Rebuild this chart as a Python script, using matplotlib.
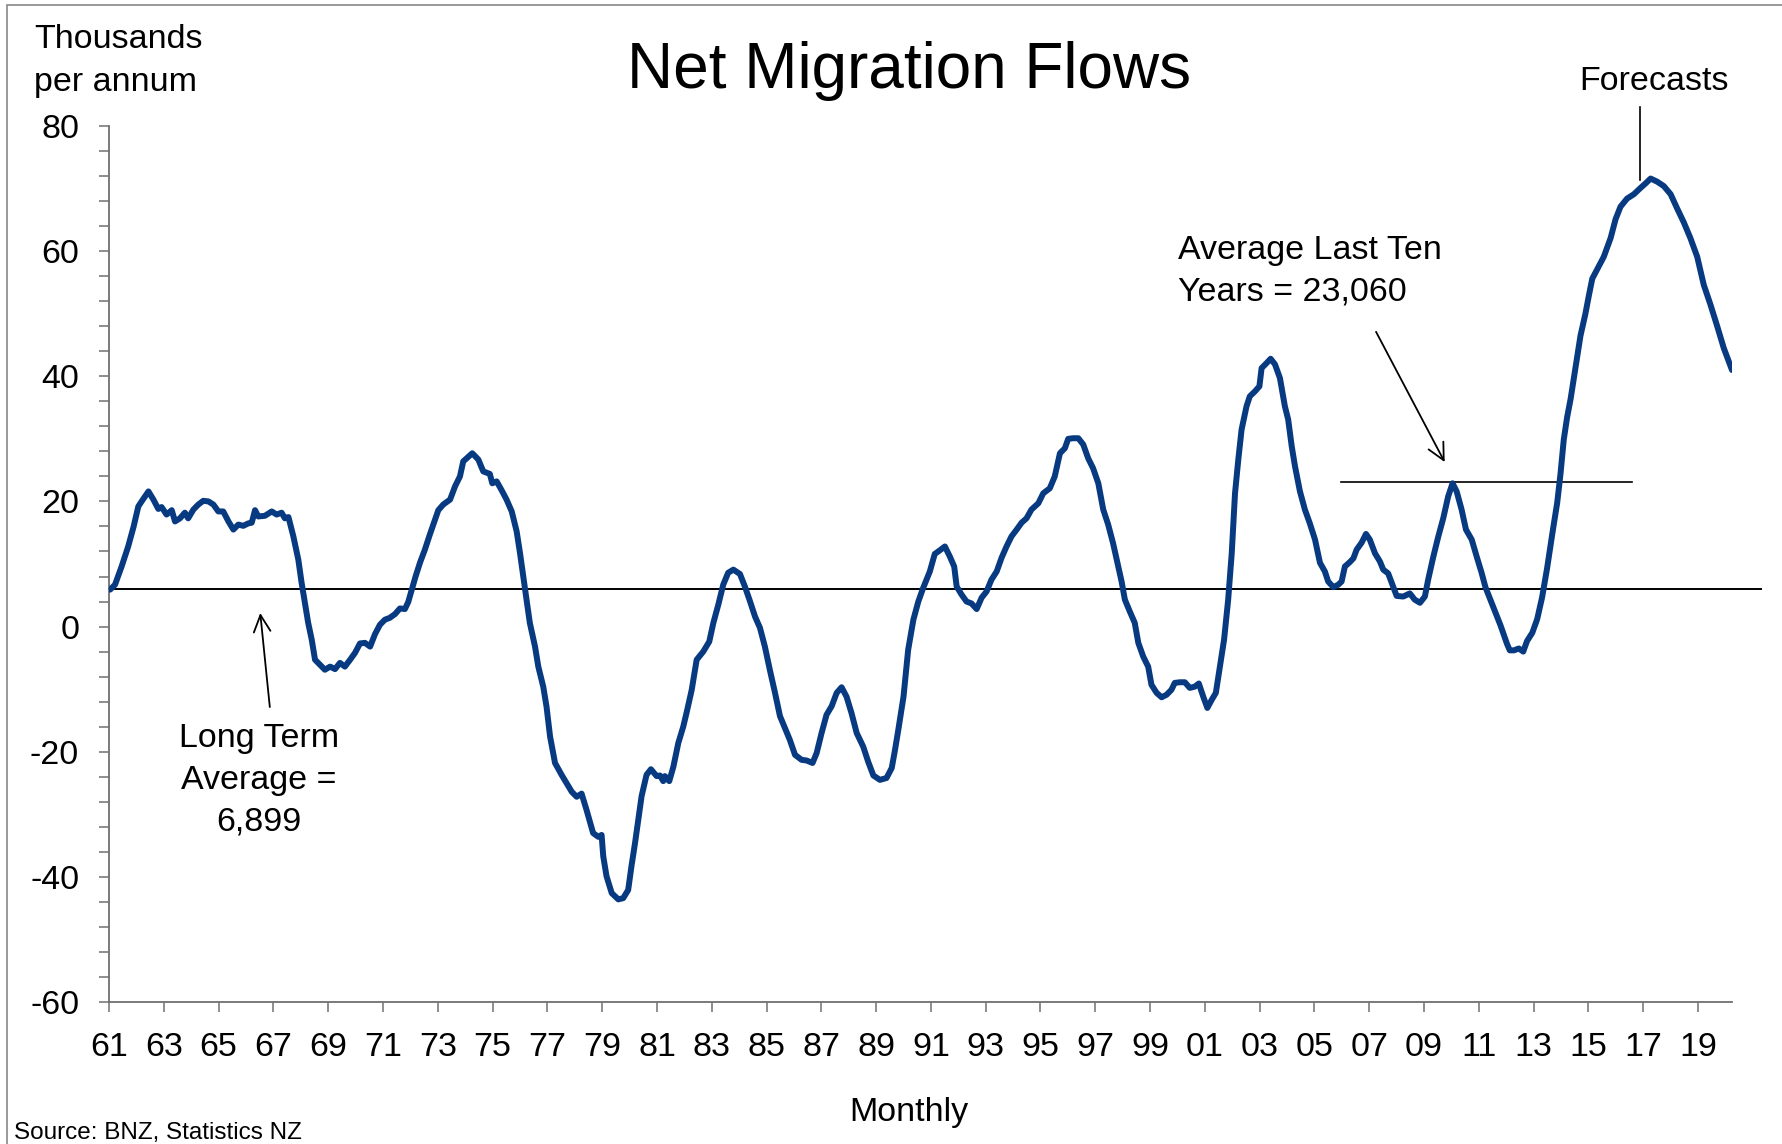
import matplotlib.pyplot as plt
import matplotlib.patches as patches

plt.rcParams['font.family'] = ['Liberation Sans', 'DejaVu Sans']

# Net migration, thousands per annum (decimal years)
years = [1961.04, 1961.22, 1961.46, 1961.70, 1961.90, 1962.07, 1962.19, 1962.44, 1962.62, 1962.80,
         1962.92, 1963.10, 1963.29, 1963.41, 1963.59, 1963.77, 1963.89, 1964.08, 1964.26, 1964.44,
         1964.63, 1964.81, 1964.99, 1965.17, 1965.36, 1965.54, 1965.72, 1965.90, 1966.09, 1966.21,
         1966.33, 1966.45, 1966.69, 1966.94, 1967.12, 1967.30, 1967.42, 1967.55, 1967.73, 1967.91,
         1968.03, 1968.15, 1968.27, 1968.40, 1968.52, 1968.70, 1968.88, 1969.07, 1969.25, 1969.43,
         1969.61, 1969.80, 1969.98, 1970.16, 1970.34, 1970.53, 1970.71, 1970.89, 1971.07, 1971.25,
         1971.44, 1971.62, 1971.80, 1971.92, 1972.05, 1972.19, 1972.35, 1972.53, 1972.71, 1972.90,
         1973.02, 1973.20, 1973.45, 1973.63, 1973.81, 1973.93, 1974.11, 1974.26, 1974.48, 1974.66,
         1974.90, 1974.99, 1975.15, 1975.33, 1975.51, 1975.70, 1975.88, 1976.00, 1976.12, 1976.24,
         1976.36, 1976.55, 1976.67, 1976.85, 1976.97, 1977.10, 1977.28, 1977.52, 1977.70, 1977.89,
         1978.07, 1978.25, 1978.43, 1978.67, 1978.86, 1978.98, 1979.04, 1979.16, 1979.35, 1979.59,
         1979.77, 1979.95, 1980.07, 1980.20, 1980.32, 1980.44, 1980.62, 1980.78, 1980.99, 1981.11,
         1981.23, 1981.29, 1981.45, 1981.60, 1981.78, 1981.96, 1982.08, 1982.27, 1982.45, 1982.69,
         1982.91, 1983.06, 1983.24, 1983.42, 1983.60, 1983.79, 1984.03, 1984.21, 1984.40, 1984.58,
         1984.76, 1984.94, 1985.12, 1985.31, 1985.49, 1985.67, 1985.85, 1986.04, 1986.28, 1986.46,
         1986.68, 1986.83, 1987.01, 1987.19, 1987.38, 1987.56, 1987.74, 1987.92, 1988.10, 1988.29,
         1988.53, 1988.71, 1988.90, 1989.14, 1989.38, 1989.57, 1989.69, 1989.81, 1990.00, 1990.17,
         1990.36, 1990.54, 1990.72, 1990.96, 1991.14, 1991.33, 1991.51, 1991.69, 1991.85, 1991.94,
         1992.12, 1992.30, 1992.48, 1992.67, 1992.85, 1993.03, 1993.21, 1993.40, 1993.58, 1993.76,
         1993.94, 1994.13, 1994.31, 1994.49, 1994.67, 1994.92, 1995.10, 1995.34, 1995.52, 1995.71,
         1995.89, 1996.01, 1996.19, 1996.38, 1996.56, 1996.74, 1996.92, 1997.11, 1997.29, 1997.47,
         1997.65, 1997.84, 1997.96, 1998.08, 1998.26, 1998.44, 1998.57, 1998.75, 1998.93, 1999.05,
         1999.24, 1999.42, 1999.60, 1999.78, 1999.90, 2000.09, 2000.27, 2000.45, 2000.63, 2000.78,
         2000.94, 2001.09, 2001.25, 2001.40, 2001.55, 2001.70, 2001.85, 2001.98, 2002.10, 2002.22,
         2002.34, 2002.52, 2002.64, 2002.83, 2002.99, 2003.07, 2003.25, 2003.40, 2003.56, 2003.74,
         2003.92, 2004.04, 2004.17, 2004.29, 2004.47, 2004.65, 2004.83, 2005.02, 2005.20, 2005.38,
         2005.50, 2005.69, 2005.87, 2005.99, 2006.11, 2006.29, 2006.42, 2006.54, 2006.72, 2006.88,
         2007.02, 2007.21, 2007.39, 2007.51, 2007.69, 2007.82, 2008.00, 2008.24, 2008.48, 2008.66,
         2008.85, 2009.03, 2009.15, 2009.34, 2009.52, 2009.70, 2009.88, 2010.04, 2010.19, 2010.37,
         2010.53, 2010.74, 2010.92, 2011.10, 2011.24, 2011.43, 2011.61, 2011.79, 2011.91, 2012.03,
         2012.13, 2012.28, 2012.46, 2012.62, 2012.76, 2012.95, 2013.13, 2013.31, 2013.49, 2013.68,
         2013.86, 2013.98, 2014.10, 2014.22, 2014.35, 2014.53, 2014.71, 2014.89, 2015.02, 2015.14,
         2015.32, 2015.56, 2015.81, 2015.99, 2016.17, 2016.41, 2016.66, 2016.90, 2017.08, 2017.27,
         2017.51, 2017.75, 2018.00, 2018.24, 2018.48, 2018.72, 2018.97, 2019.21, 2019.45, 2019.70,
         2019.94, 2020.24]

net_migration = [5.9, 6.7, 9.6, 12.8, 16.0, 19.2, 20.0, 21.6, 20.3, 18.8,
                 19.1, 17.9, 18.6, 16.8, 17.3, 18.2, 17.3, 18.7, 19.5, 20.1,
                 20.0, 19.5, 18.4, 18.4, 16.8, 15.5, 16.3, 16.1, 16.5, 16.6,
                 18.6, 17.6, 17.7, 18.4, 17.9, 18.2, 17.3, 17.5, 14.4, 10.7,
                 7.0, 3.8, 0.6, -2.1, -5.3, -6.1, -6.9, -6.4, -6.8, -5.8,
                 -6.4, -5.3, -4.2, -2.7, -2.6, -3.2, -1.2, 0.3, 1.1, 1.4,
                 2.0, 2.9, 2.8, 3.9, 5.9, 8.0, 10.2, 12.3, 14.7, 17.1,
                 18.6, 19.5, 20.3, 22.4, 24.0, 26.4, 27.1, 27.7, 26.7, 24.8,
                 24.4, 22.9, 23.2, 21.8, 20.3, 18.4, 15.2, 11.8, 8.0, 4.3,
                 0.6, -3.2, -6.4, -9.6, -12.8, -17.6, -21.8, -23.7, -25.0, -26.4,
                 -27.2, -26.7, -29.3, -33.0, -33.6, -33.3, -36.7, -39.9, -42.6, -43.6,
                 -43.4, -42.1, -38.3, -34.6, -30.9, -27.1, -23.7, -22.8, -23.9, -23.8,
                 -24.7, -23.9, -24.7, -22.4, -18.6, -16.0, -13.8, -10.1, -5.3, -4.0,
                 -2.4, 0.6, 3.5, 6.7, 8.6, 9.1, 8.4, 6.4, 4.0, 1.6,
                 -0.2, -3.2, -6.9, -10.6, -14.3, -16.2, -18.1, -20.5, -21.3, -21.4,
                 -21.8, -20.2, -17.0, -14.1, -12.7, -10.6, -9.7, -11.2, -13.8, -17.0,
                 -19.2, -21.6, -23.8, -24.5, -24.2, -22.6, -19.7, -16.5, -11.2, -3.7,
                 1.1, 4.0, 6.2, 8.8, 11.6, 12.2, 12.8, 11.2, 9.6, 6.4,
                 5.1, 4.0, 3.7, 2.8, 4.6, 5.6, 7.5, 8.8, 11.0, 12.8,
                 14.4, 15.5, 16.6, 17.3, 18.7, 19.7, 21.3, 22.1, 24.0, 27.7,
                 28.5, 30.0, 30.1, 30.1, 29.1, 26.9, 25.3, 22.9, 18.7, 16.3,
                 13.3, 9.6, 7.2, 4.3, 2.4, 0.6, -2.6, -4.8, -6.4, -9.3,
                 -10.6, -11.3, -10.9, -10.1, -9.0, -8.9, -8.9, -9.8, -9.6, -9.1,
                 -11.2, -13.0, -11.7, -10.6, -6.4, -2.1, 4.3, 11.7, 21.3, 26.7,
                 31.5, 35.2, 36.8, 37.6, 38.4, 41.3, 42.1, 42.8, 41.9, 39.7,
                 35.2, 33.1, 28.8, 25.6, 21.6, 18.7, 16.5, 13.9, 10.2, 8.8,
                 7.2, 6.3, 6.7, 7.2, 9.6, 10.3, 10.9, 12.3, 13.4, 14.8,
                 13.9, 11.7, 10.4, 9.1, 8.5, 7.0, 4.9, 4.8, 5.3, 4.3,
                 3.8, 4.8, 7.5, 11.2, 14.4, 17.3, 20.8, 22.9, 21.6, 18.7,
                 15.5, 13.9, 11.2, 8.6, 6.3, 4.2, 2.2, 0.2, -1.3, -2.8,
                 -3.8, -3.8, -3.5, -4.0, -2.3, -1.0, 1.2, 4.7, 9.3, 14.8,
                 19.8, 24.4, 29.9, 33.4, 36.4, 41.5, 46.5, 50.0, 53.0, 55.6,
                 57.1, 59.1, 62.1, 65.1, 67.1, 68.4, 69.1, 70.1, 70.8, 71.6,
                 71.1, 70.4, 69.1, 66.8, 64.6, 62.1, 59.1, 54.6, 51.5, 48.0,
                 44.5, 41.0]

x_ticks = list(range(1961, 2020, 2))
x_tick_labels = ['%02d' % (y % 100) for y in x_ticks]
y_ticks = [-60, -40, -20, 0, 20, 40, 60, 80]
y_tick_labels = ['-60', '-40', '-20', '0', '20', '40', '60', '80']

long_term_level = 6.0        # drawn level of the long term average line
long_term_span = [1961.0, 2021.3]
ten_year_level = 23.06
ten_year_span = [2005.97, 2016.58]
forecast_marker = [2016.88, 71.4, 83.0]

W, H = 1782, 1144
fig = plt.figure(figsize=(W / 100, H / 100), dpi=100)
ax = fig.add_axes([109 / W, 1 - 1002 / H, (1732 - 109) / W, (1002 - 126) / H])

line_color = '#083A82'
axis_color = '#707070'

ax.plot(years, net_migration, color=line_color, lw=4.3,
        solid_joinstyle='round', solid_capstyle='round', zorder=3)

# reference lines
ax.plot(long_term_span, [long_term_level] * 2, color='black', lw=1.4, clip_on=False, zorder=2)
ax.plot(ten_year_span, [ten_year_level] * 2, color='black', lw=1.2, zorder=2)
ax.plot([forecast_marker[0]] * 2, forecast_marker[1:], color='black', lw=1.2, clip_on=False)

# arrows
ax.annotate('', xy=(1966.51, 2.6), xytext=(1966.88, -13.3),
            arrowprops=dict(arrowstyle='->', lw=1.3, color='black', mutation_scale=30))
ax.annotate('', xy=(2009.80, 25.9), xytext=(2007.20, 47.5),
            arrowprops=dict(arrowstyle='->', lw=1.3, color='black', mutation_scale=30))

ax.set_xlim(1961, 2020.24)
ax.set_ylim(-60, 80)
ax.set_xticks(x_ticks)
ax.set_xticklabels(x_tick_labels)
ax.set_yticks(y_ticks)
ax.set_yticklabels(y_tick_labels)
ax.set_yticks(list(range(-60, 81, 4)), minor=True)

for side in ['top', 'right']:
    ax.spines[side].set_visible(False)
for side in ['left', 'bottom']:
    ax.spines[side].set_color(axis_color)
    ax.spines[side].set_linewidth(1.3)

ax.tick_params(axis='both', which='both', direction='out', length=7.5, width=1.1,
               color=axis_color, labelsize=24.5)
ax.tick_params(axis='y', pad=14)
ax.tick_params(axis='x', pad=14)


def put_lines(x, y, lines, dy, **kw):
    for i, s in enumerate(lines):
        fig.text(x / W, 1 - (y + i * dy) / H, s, fontsize=24.5, va='center', **kw)


fig.text(909 / W, 1 - 71 / H, 'Net Migration Flows', fontsize=46, ha='center', va='center')
put_lines(34, 40, ['Thousands', 'per annum'], 42, ha='left')
put_lines(1654, 82, ['Forecasts'], 0, ha='center')
put_lines(1178, 250, ['Average Last Ten', 'Years = 23,060'], 42, ha='left')
put_lines(259, 739, ['Long Term', 'Average =', '6,899'], 41.5, ha='center')
put_lines(909, 1112, ['Monthly'], 0, ha='center')
fig.text(14 / W, 1 - 1133 / H, 'Source: BNZ, Statistics NZ', fontsize=17.5, va='center')

# thin frame round the chart area
fig.add_artist(patches.Rectangle((7 / W, -0.01), 1.0, 1 - 5 / H + 0.01, fill=False,
                                 edgecolor='#888888', lw=1.2, transform=fig.transFigure))

fig.savefig('out.png', dpi=100)
